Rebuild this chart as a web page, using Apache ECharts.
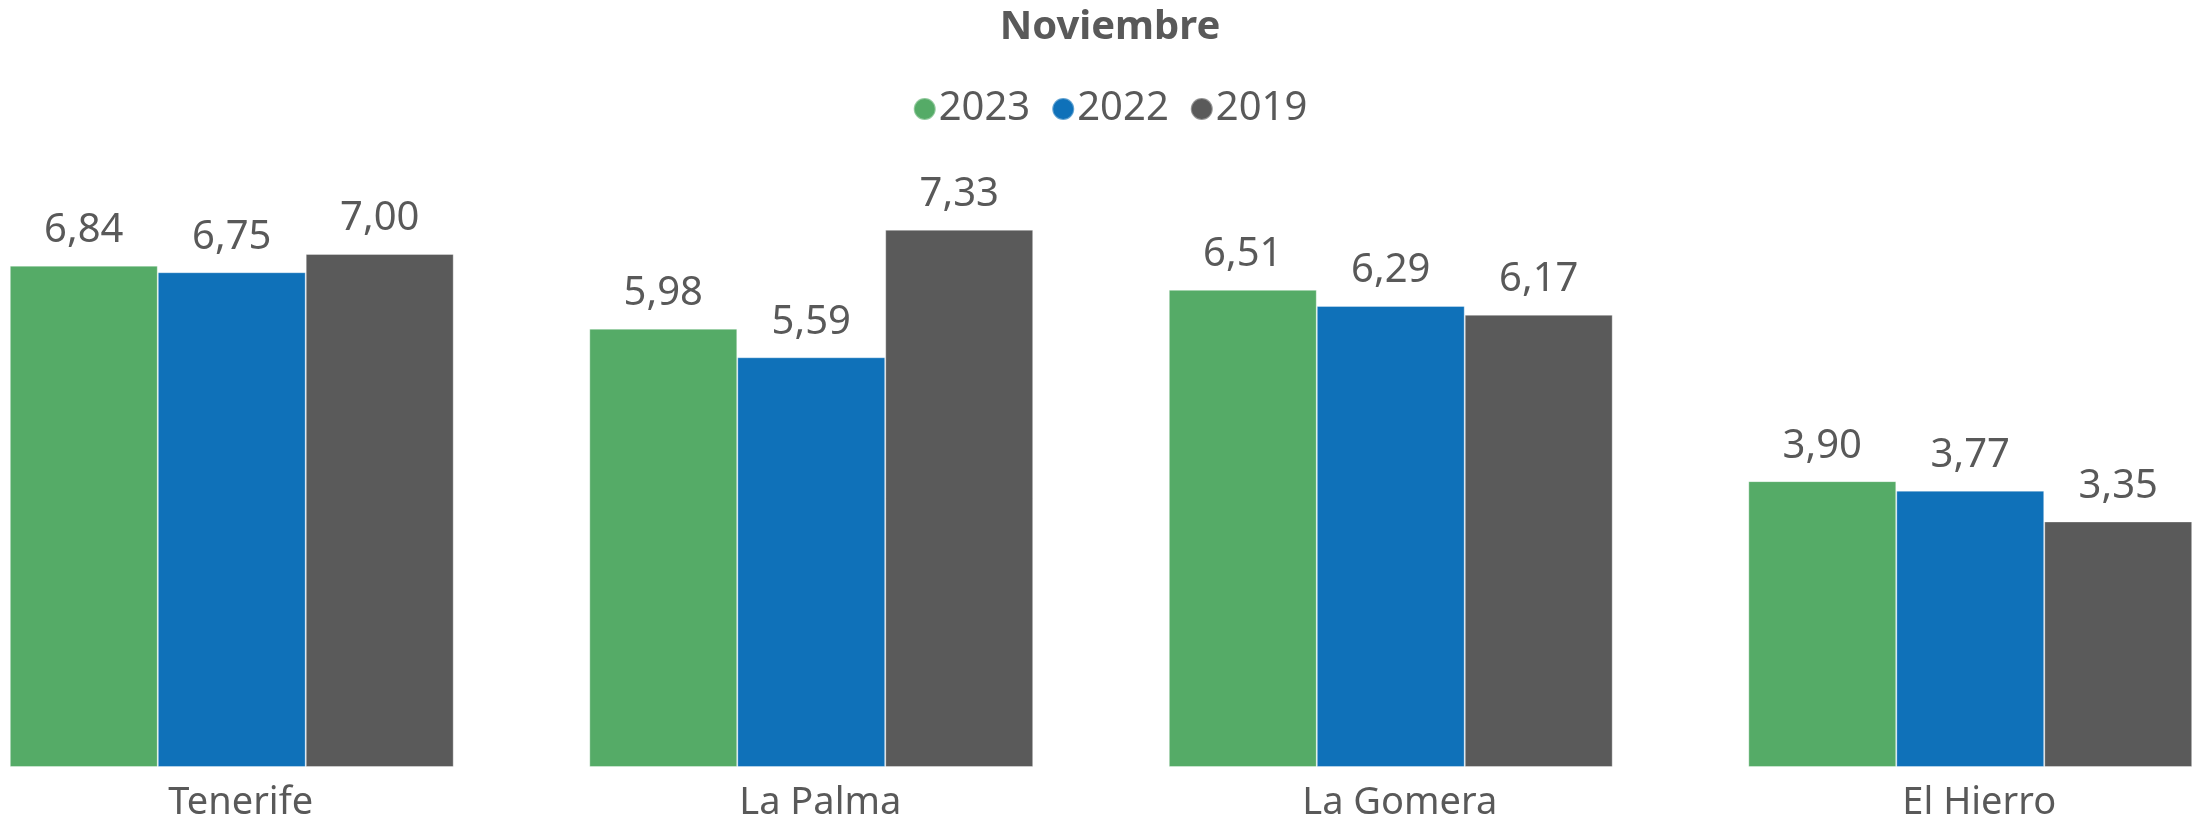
<!DOCTYPE html>
<html><head><meta charset="utf-8">
<script src="https://cdn.jsdelivr.net/npm/echarts@6/dist/echarts.min.js"></script>
<style>html,body{margin:0;padding:0;background:#fff;overflow:hidden;width:2205px;height:823px}#c{position:absolute;left:-58px;top:0;width:2336px;height:823px}</style>
</head><body><div id="c"></div>
<script>
const categories = ['Tenerife', 'La Palma', 'La Gomera', 'El Hierro'];
const seriesNames = ['2023', '2022', '2019'];
const values2023 = [6.84, 5.98, 6.51, 3.90];
const values2022 = [6.75, 5.59, 6.29, 3.77];
const values2019 = [7.00, 7.33, 6.17, 3.35];
const colors = ['#55AB67', '#0F71B9', '#5A5A5A'];
const font = 'Noto Sans, Segoe UI, sans-serif';
const txt = '#595959';

const chart = echarts.init(document.getElementById('c'));
const data = [values2023, values2022, values2019];
chart.setOption({
  animation: false,
  title: { text: 'Noviembre', left: 'center', top: 3,
    textStyle: { fontFamily: font, fontSize: 40, fontWeight: 'bold', color: txt } },
  legend: { top: 84, left: 'center', icon: 'circle', itemWidth: 22, itemHeight: 22, itemGap: 21,
    textStyle: { fontFamily: font, fontSize: 40, color: txt, padding: [0,0,0,-2] },
    data: seriesNames },
  grid: { left: 0, right: 18, top: 34, bottom: 56, containLabel: false },
  xAxis: { type: 'category', data: categories,
    axisLine: { show: false }, axisTick: { show: false },
    axisLabel: { fontFamily: font, fontSize: 38, color: txt, margin: 17, padding: [0,0,0,18] } },
  yAxis: { type: 'value', min: 0, max: 10, show: false, splitLine: { show: false } },
  series: seriesNames.map((n, i) => ({
    name: n, type: 'bar', data: data[i], barGap: '0%', barCategoryGap: '23.4%',
    itemStyle: { color: colors[i], borderColor: 'rgba(255,255,255,0.35)', borderWidth: 1 },
    label: { show: true, position: 'top', distance: 15, fontFamily: font, fontSize: 40, color: txt,
      formatter: p => p.value.toFixed(2).replace('.', ',') }
  }))
});
</script></body></html>
